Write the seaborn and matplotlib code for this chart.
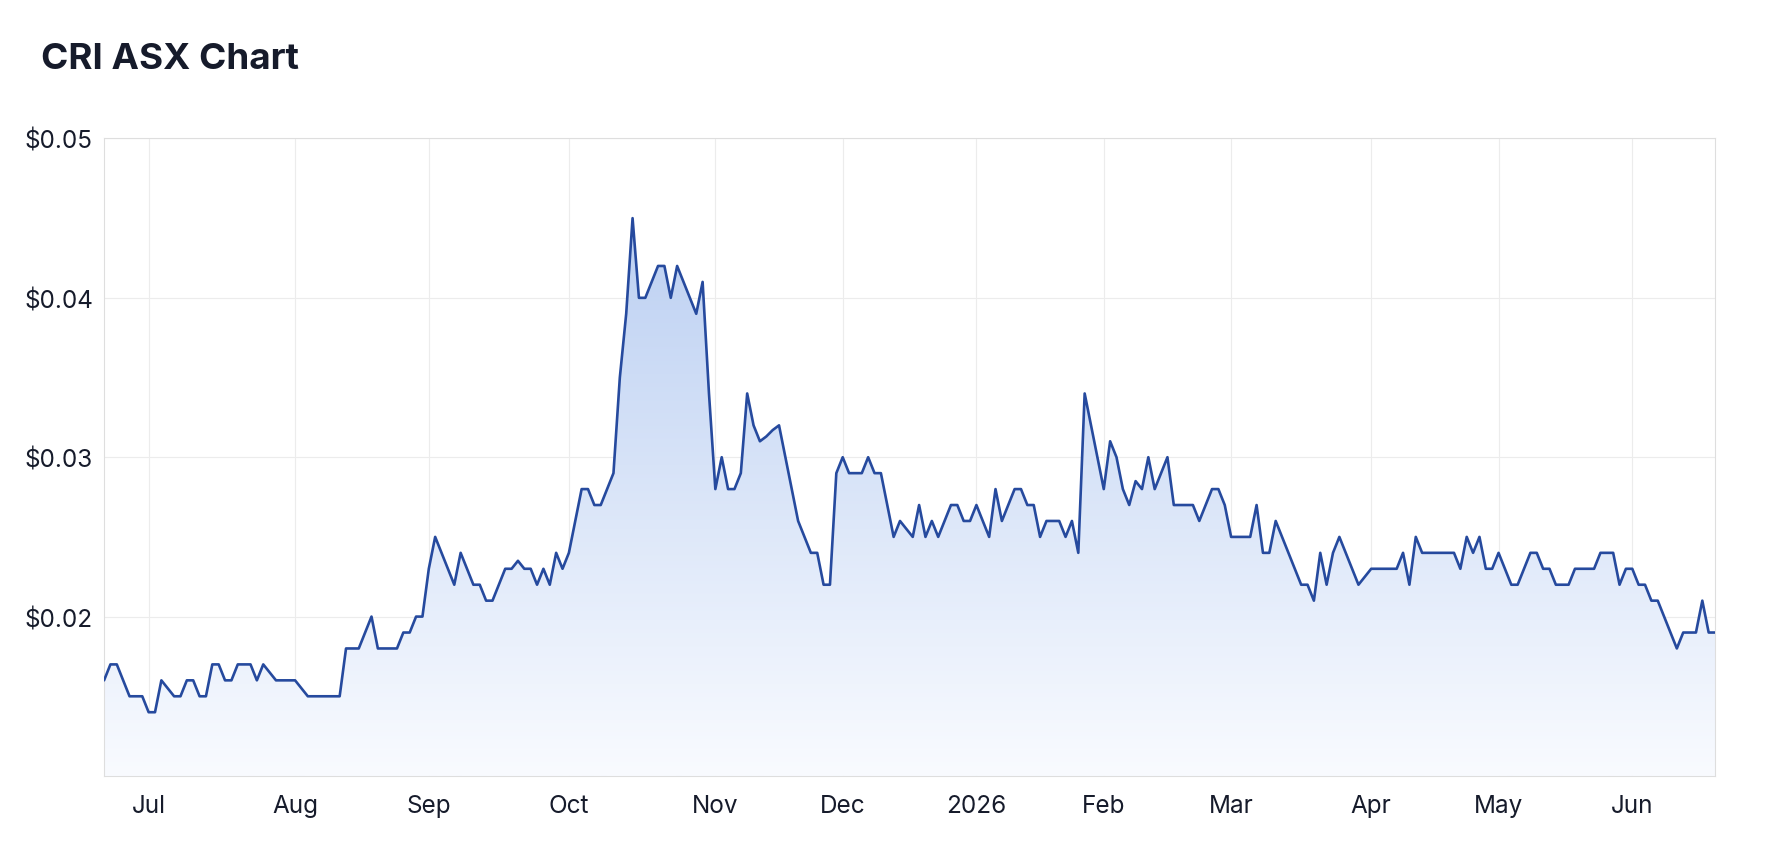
import numpy as np
import pandas as pd
import seaborn as sns
import matplotlib.pyplot as plt
from matplotlib.colors import LinearSegmentedColormap


# ASX trading days, Jun 20 2025 - Jun 19 2026
holidays = ["2025-12-25", "2025-12-26", "2026-01-01", "2026-01-26",
            "2026-04-03", "2026-04-06", "2026-06-08"]

# closing prices ($), one list per month
jun25 = [0.016, 0.017, 0.017, 0.016, 0.015, 0.015, 0.015]
jul25 = [0.014, 0.014, 0.016, 0.0155, 0.015, 0.015, 0.016, 0.016, 0.015, 0.015, 0.017, 0.017,
         0.016, 0.016, 0.017, 0.017, 0.017, 0.016, 0.017, 0.0165, 0.016, 0.016, 0.016]
aug25 = [0.016, 0.0155, 0.015, 0.015, 0.015, 0.015, 0.015, 0.015, 0.018, 0.018, 0.018, 0.019,
         0.020, 0.018, 0.018, 0.018, 0.018, 0.019, 0.019, 0.020, 0.020]
sep25 = [0.023, 0.025, 0.024, 0.023, 0.022, 0.024, 0.023, 0.022, 0.022, 0.021, 0.021, 0.022,
         0.023, 0.023, 0.0235, 0.023, 0.023, 0.022, 0.023, 0.022, 0.024, 0.023]
oct25 = [0.024, 0.026, 0.028, 0.028, 0.027, 0.027, 0.028, 0.029, 0.035, 0.039, 0.045, 0.040,
         0.040, 0.041, 0.042, 0.042, 0.040, 0.042, 0.041, 0.040, 0.039, 0.041, 0.034]
nov25 = [0.028, 0.030, 0.028, 0.028, 0.029, 0.034, 0.032, 0.031, 0.0313, 0.0317, 0.032, 0.030,
         0.028, 0.026, 0.025, 0.024, 0.024, 0.022, 0.022, 0.029]
dec25 = [0.030, 0.029, 0.029, 0.029, 0.030, 0.029, 0.029, 0.027, 0.025, 0.026, 0.0255, 0.025,
         0.027, 0.025, 0.026, 0.025, 0.026, 0.027, 0.027, 0.026, 0.026]
jan26 = [0.027, 0.026, 0.025, 0.028, 0.026, 0.027, 0.028, 0.028, 0.027, 0.027, 0.025, 0.026,
         0.026, 0.026, 0.025, 0.026, 0.024, 0.034, 0.032, 0.030]
feb26 = [0.028, 0.031, 0.030, 0.028, 0.027, 0.0285, 0.028, 0.030, 0.028, 0.029, 0.030, 0.027,
         0.027, 0.027, 0.027, 0.026, 0.027, 0.028, 0.028, 0.027]
mar26 = [0.025, 0.025, 0.025, 0.025, 0.027, 0.024, 0.024, 0.026, 0.025, 0.024, 0.023, 0.022,
         0.022, 0.021, 0.024, 0.022, 0.024, 0.025, 0.024, 0.023, 0.022, 0.0225]
apr26 = [0.023, 0.023, 0.023, 0.023, 0.023, 0.024, 0.022, 0.025, 0.024, 0.024, 0.024, 0.024,
         0.024, 0.024, 0.023, 0.025, 0.024, 0.025, 0.023, 0.023]
may26 = [0.024, 0.023, 0.022, 0.022, 0.023, 0.024, 0.024, 0.023, 0.023, 0.022, 0.022, 0.022,
         0.023, 0.023, 0.023, 0.023, 0.024, 0.024, 0.024, 0.022, 0.023]
jun26 = [0.023, 0.022, 0.022, 0.021, 0.021, 0.020, 0.019, 0.018, 0.019, 0.019, 0.019, 0.021,
         0.019, 0.019]

y_ticks = [0.02, 0.03, 0.04, 0.05]

price = jun25 + jul25 + aug25 + sep25 + oct25 + nov25 + dec25 + jan26 + feb26 + mar26 + apr26 + may26 + jun26

dates = pd.bdate_range("2025-06-20", "2026-06-19")
dates = dates[~dates.isin(pd.to_datetime(holidays))]

df = pd.DataFrame({"day": np.arange(len(price)), "date": dates, "price": price})

# first trading day of each month -> tick
firsts = df.groupby(df["date"].dt.to_period("M"))["day"].min().iloc[1:]
tick_pos = firsts.values
tick_lab = [("2026" if p.month == 1 else p.strftime("%b")) for p in firsts.index]


sns.set_style("white")
plt.rcParams["font.family"] = ["Inter", "DejaVu Sans"]

line_col = "#264a9e"
text_col = "#161b2b"

fig = plt.figure(figsize=(17.88, 8.54), dpi=100)
ax = fig.add_axes([0.0582, 0.0902, 0.9010, 0.7465])

ymin, ymax = 0.01, 0.05
x0, x1 = df["day"].min(), df["day"].max()

# gradient area under the line
cmap = LinearSegmentedColormap.from_list("area", ["#f9fbff", "#bcd0f2"])
grad = np.linspace(0, 1, 256).reshape(-1, 1)
img = ax.imshow(grad, extent=[x0, x1, ymin, max(price)], origin="lower",
                aspect="auto", cmap=cmap, zorder=1)
poly = ax.fill_between(df["day"], df["price"], ymin, facecolor="none", edgecolor="none")
img.set_clip_path(poly.get_paths()[0], transform=ax.transData)

sns.lineplot(data=df, x="day", y="price", color=line_col, linewidth=1.9, ax=ax, zorder=3)

ax.set_xlim(x0, x1)
ax.set_ylim(ymin, ymax)
ax.set_xticks(tick_pos)
ax.set_xticklabels(tick_lab)
ax.set_yticks(y_ticks)
ax.set_yticklabels([f"${v:.2f}" for v in y_ticks])
ax.set_xlabel("")
ax.set_ylabel("")

ax.grid(True, color="#ececec", linewidth=0.8, zorder=0)
ax.set_axisbelow(True)
for s in ax.spines.values():
    s.set_color("#dedede")
    s.set_linewidth(0.8)

ax.tick_params(axis="both", length=0, labelsize=17.5, colors=text_col)
ax.tick_params(axis="x", pad=13)
ax.tick_params(axis="y", pad=8)

fig.text(0.023, 0.93, "CRI ASX Chart", fontsize=26.5, fontweight="bold",
         color=text_col, ha="left", va="center")

fig.savefig("out.png", dpi=100)
